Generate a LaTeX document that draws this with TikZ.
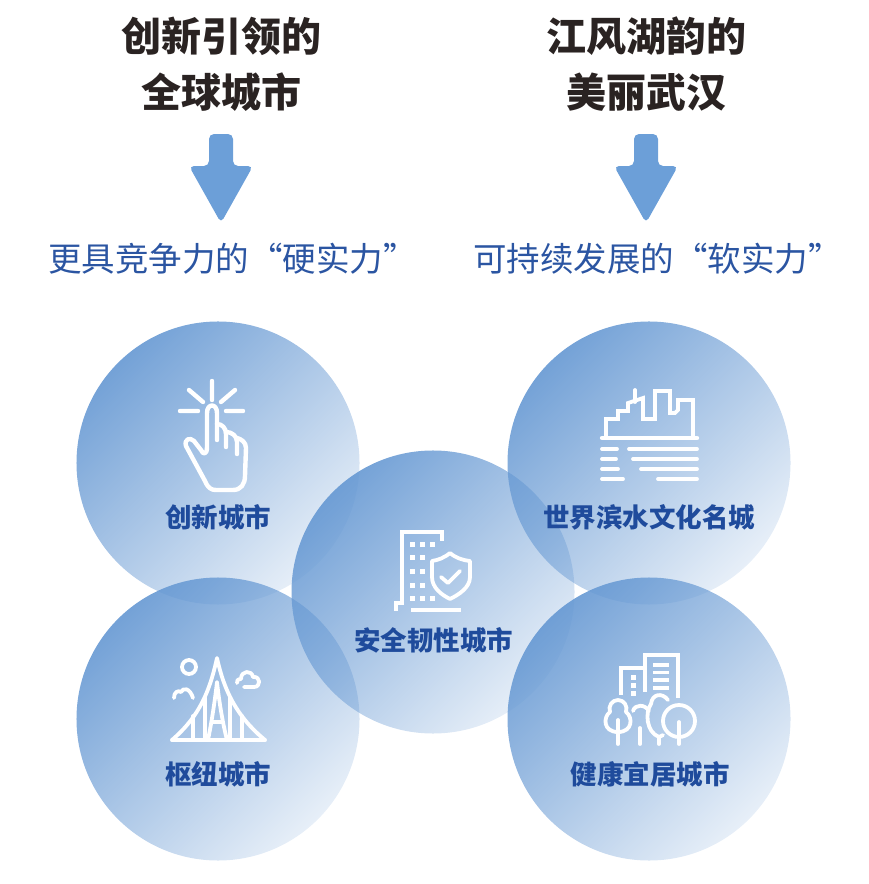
\documentclass[tikz,border=0pt]{standalone}
\usepackage{fontspec}
\setmainfont{Noto Sans CJK SC}
\newfontfamily\titlefont[BoldFont=Noto Sans CJK SC Bold]{Noto Sans CJK SC}
\usetikzlibrary{fadings}
\definecolor{ballblue}{HTML}{6497D2}
\definecolor{arrowblue}{HTML}{6C9FD8}
\definecolor{titledark}{HTML}{2A2322}
\definecolor{subblue}{HTML}{2B55A2}
\definecolor{labelblue}{HTML}{1F4B9C}
\tikzfading[name=ballfade,top color=transparent!10,bottom color=transparent!85]
\tikzset{
    titletext/.style={text=titledark,font=\fontsize{40}{40}\selectfont\bfseries,inner sep=0pt},
    subtext/.style={text=subblue,font=\fontsize{33.5}{34}\selectfont,inner sep=0pt},
    balltext/.style={text=labelblue,font=\fontsize{26.5}{27}\selectfont\bfseries,inner sep=0pt},
    icon/.style={draw=white,line width=4.4pt,line cap=round,line join=round},
    thinicon/.style={draw=white,line width=3.8pt,line cap=round,line join=round},
    dot/.style={fill=white},
    downarrow/.pic={
        \fill[arrowblue,rounded corners=5pt] (-12,-86)--(12,-86)--(12,-54)--(32,-54)--(0,3)--(-32,-54)--(-12,-54)--cycle;
    }
}
\begin{document}
\begin{tikzpicture}[x=1pt,y=-1pt]
    \useasboundingbox (0,0) rectangle (869,884);
    % circles
    \foreach \cx/\cy in {218/463,649/463,218/719,649/719,433/592}
        \fill[ballblue,path fading=ballfade,fading angle=45] (\cx,\cy) circle (141.5);
    % titles
    \node[titletext] (title1) at (221,36) {创新引领的};
    \node[titletext] (title2) at (221,92) {全球城市};
    \node[titletext] (title3) at (646,36) {江风湖韵的};
    \node[titletext] (title4) at (646,92) {美丽武汉};
    \path (221,220) pic {downarrow} (646,220) pic {downarrow};
    \node[subtext] (hard) at (232.5,259) {更具竞争力的“硬实力”};
    \node[subtext] (soft) at (657.5,259) {可持续发展的“软实力”};
    % labels
    \node[balltext] (innov) at (218,517) {创新城市};
    \node[balltext] (water) at (649,517) {世界滨水文化名城};
    \node[balltext] (safe) at (433.5,640) {安全韧性城市};
    \node[balltext] (hub) at (218,774) {枢纽城市};
    \node[balltext] (live) at (650,774) {健康宜居城市};
    % hand
    \draw[icon] (212,381)--(212,400) (189,390)--(203,402) (235,390)--(221,402) (180,411)--(198,411) (226,411)--(243,411);
    \draw[icon] (217,440)--(217,413) .. controls (217,403) and (207,403) .. (207,413) -- (207,447)
        .. controls (207,455) and (203,455) .. (201,450) -- (194,441) .. controls (190,437) and (184,439) .. (186,446)
        -- (205,481) .. controls (208,488) and (211,490) .. (216,490) -- (233,490) .. controls (241,490) and (245,484) .. (245,476)
        -- (246,448) .. controls (246,442) and (241,439) .. (237,438);
    \draw[icon] (217,424) .. controls (222,424) and (226,428) .. (226,434) -- (226,447);
    \draw[icon] (226,432) .. controls (232,432) and (237,436) .. (237,442) -- (237,454);
    % skyline
    \draw[thinicon,line cap=butt,line join=miter] (606,437)--(606,419)--(618,419)--(618,411)--(628,411)--(628,403)--(643,398)--(643,419)--(655,419)--(655,391)--(670,391)--(670,413)--(675,413)--(678,410)--(678,400)--(693,400)--(693,437);
    \draw[thinicon] (635,390)--(635,402);
    \draw[icon] (602,438)--(697,438);
    \draw[thinicon] (602,449)--(617,449) (629,449)--(697,449) (602,459)--(616,459) (633,459)--(697,459)
        (602,469)--(618,469) (641,469)--(697,469) (602,479)--(623,479) (658,479)--(697,479);
    % building and shield
    \draw[thinicon,line cap=butt,line join=miter] (396,611)--(396,603)--(402,603)--(402,532)--(442,532)--(442,541);
    \draw[thinicon,line cap=butt] (411,610)--(461,610);
    \foreach \wx/\wy in {412/544,422/544,432/544,412/557,422/557,412/571,422/571,412/585,422/585,412/598,422/598,432/598}
        \fill[dot] (\wx-2.5,\wy-2.5) rectangle (\wx+2.5,\wy+2.5);
    \draw[thinicon] (450,553) .. controls (444,558) and (438,560) .. (432,561) -- (432,577)
        .. controls (432,588) and (442,595) .. (450,599) .. controls (458,595) and (470,588) .. (470,577) -- (470,561)
        .. controls (462,560) and (456,558) .. (450,553);
    \draw[thinicon] (441,577)--(448,583)--(460,571);
    % tower
    \draw[thinicon] (189,667) circle (7);
    \draw[thinicon] (172,740)--(265,740);
    \draw[thinicon] (172,740) .. controls (200,716) and (210,690) .. (217,658) .. controls (224,690) and (236,716) .. (265,740);
    \draw[thinicon] (208,740) .. controls (212,720) and (215,700) .. (217,682) .. controls (219,700) and (222,720) .. (227,740);
    \draw[thinicon] (212,722)--(222,722) (193,716)--(193,740) (205,698)--(205,740) (230,698)--(230,740) (242,716)--(242,740);
    \draw[thinicon] (174,698) .. controls (174,692) and (178,690) .. (181,692) .. controls (183,687) and (190,688) .. (193,698);
    \draw[thinicon] (244,687)--(254,687) .. controls (261,687) and (261,676) .. (253,677) .. controls (252,670) and (241,670) .. (241,679) .. controls (238,679) and (236,681) .. (237,683);
    % city
    \draw[thinicon,line cap=butt,line join=miter] (645,692)--(645,655)--(678,655)--(678,698);
    \draw[thinicon,line cap=butt,line join=miter] (645,668)--(621,668)--(621,695);
    \draw[thinicon,line cap=butt] (653,665)--(669,665) (653,672.5)--(669,672.5) (653,680)--(669,680) (653,688)--(669,688);
    \foreach \wy in {677,685,693}
        \fill[dot] (630.5,\wy-2.5) rectangle (635.5,\wy+2.5);
    \draw[thinicon] (618,700) .. controls (612,700) and (608,706) .. (610,712) .. controls (603,717) and (603,732) .. (618,732)
        .. controls (633,732) and (633,717) .. (626,712) .. controls (628,706) and (624,700) .. (618,700);
    \draw[thinicon] (618,720)--(618,744) (640,728)--(640,744) (659,737)--(659,744) (679,722)--(679,744);
    \draw[thinicon] (633,711) .. controls (635,704) and (645,704) .. (649,711);
    \draw[thinicon] (668,700) .. controls (662,692) and (652,694) .. (651,704) .. controls (645,712) and (646,732) .. (659,737) -- (663,735);
    \draw[thinicon] (679,721) circle (16);
\end{tikzpicture}
\end{document}
